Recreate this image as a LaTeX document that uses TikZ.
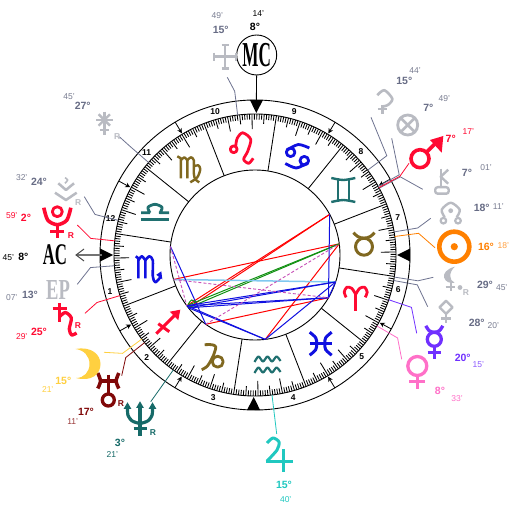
\documentclass[tikz,border=0pt]{standalone}
\usepackage{fontspec}
\setmainfont{Liberation Sans}
\newfontfamily\capfont{Liberation Serif}
\usetikzlibrary{calc,arrows.meta}
\definecolor{cGrey}{HTML}{B9BBC2}
\definecolor{cTxt}{HTML}{676C85}
\definecolor{cTxtM}{HTML}{7A7E92}
\definecolor{cLine}{HTML}{6E7390}
\definecolor{cRed}{HTML}{FF0A32}
\definecolor{cOrange}{HTML}{FF8000}
\definecolor{cPurple}{HTML}{7030FF}
\definecolor{cPink}{HTML}{FF70C8}
\definecolor{cJup}{HTML}{20C8C0}
\definecolor{cNep}{HTML}{166A68}
\definecolor{cUra}{HTML}{800808}
\definecolor{cMoon}{HTML}{FFD040}
\definecolor{cBrown}{HTML}{806820}
\definecolor{cTeal}{HTML}{207070}
\definecolor{cBlue}{HTML}{1010E0}
\definecolor{cAspG}{HTML}{109010}
\definecolor{cAspL}{HTML}{80C8F0}
\definecolor{cAspD}{HTML}{C850B8}
\tikzset{
  x=1pt,y=-1pt,
  deg/.style={font=\fontsize{10.5}{12}\selectfont\bfseries,inner sep=0pt},
  mn/.style={font=\fontsize{8.5}{10}\selectfont,inner sep=0pt},
  retro/.style={font=\fontsize{8.5}{10}\selectfont\bfseries,inner sep=0pt},
  hnum/.style={font=\fontsize{8.5}{10}\selectfont\bfseries,inner sep=0pt},
  gl/.style={line width=#1,line join=round},
  gl/.default=3pt,
  ptr/.style={line width=.8pt,#1},
  aspRed/.style={draw=red,line width=1pt},
  aspBlue/.style={draw=cBlue,line width=1pt},
  aspGreen/.style={draw=cAspG,line width=1pt},
  aspDash/.style={draw=cAspD,line width=.9pt,dash pattern=on 3pt off 2pt},
  aspLight/.style={draw=cAspL,line width=1.5pt},
  hcusp/.style={line width=.8pt,-{Stealth[length=5pt,width=5pt]}},
}
\newcommand{\lab}[6]{\node[#4,text=#5] (#1) at (#2,#3) {#6};}
\newcommand{\pointer}[4]{\draw[ptr=#2] ($(C)+(-#1:141)$) -- ($(C)+(-#1:165)$) -- (#3,#4);}
\newcommand{\angletri}[1]{\fill[black] ($(C)+(-#1:142)$) -- ($(C)+(-#1:155)+(-#1+90:6.5)$) -- ($(C)+(-#1:155)+(-#1-90:6.5)$) -- cycle;}
\begin{document}
\begin{tikzpicture}
\useasboundingbox (0,0) rectangle (510,510);
\fill[white] (0,0) rectangle (510,510);
\coordinate (C) at (255,255);
% rings
\draw[line width=.9pt] (C) circle[radius=155pt];
\draw[line width=.9pt] (C) circle[radius=141pt];
\draw[line width=.9pt] (C) circle[radius=85pt];
% ticks
\foreach \i in {0,...,359}{
  \pgfmathsetmacro\a{\i-38.75}
  \pgfmathsetmacro\ri{ifthenelse(mod(\i,30)==0,85,ifthenelse(mod(\i,10)==0,126,ifthenelse(mod(\i,5)==0,131.5,135.5)))}
  \draw[line width=.85pt] ($(C)+(-\a:141)$) -- ($(C)+(-\a:\ri)$);
}
% angle triangles
\angletri{180}\angletri{89.48}\angletri{0}\angletri{269.48}
% house cusp arrows
\foreach \a in {151.5,121,209.3,238.9,331.5,301,29.3,58.9}{
  \draw[hcusp] ($(C)+(-\a:155)$) -- ($(C)+(-\a:142)$);
}
% house numbers
\lab{h10}{215}{111.5}{hnum}{black}{10}
\lab{h11}{146.7}{152.7}{hnum}{black}{11}
\lab{h12}{110.7}{219}{hnum}{black}{12}
\lab{h1}{110}{291.7}{hnum}{black}{1}
\lab{h2}{146.7}{357.7}{hnum}{black}{2}
\lab{h3}{213.3}{397.7}{hnum}{black}{3}
\lab{h4}{293.3}{397.7}{hnum}{black}{4}
\lab{h5}{361.7}{356.7}{hnum}{black}{5}
\lab{h6}{398.3}{290}{hnum}{black}{6}
\lab{h7}{397.7}{217.3}{hnum}{black}{7}
\lab{h8}{361}{151.7}{hnum}{black}{8}
\lab{h9}{294.3}{111.7}{hnum}{black}{9}
% aspect anchors
\foreach \n/\t in {Sun/7.55,Mars/28.53,Merc/-18.5,Ven/-30.2,Jup/276.92,Nep/234.6,Moon/216.6,Ura/218.43,Sat/196.73,Plu/174.23}{
  \coordinate (a\n) at ($(C)+(-\t:85)$);
}
\draw[aspRed] (aMoon) -- (aMars);
\draw[aspRed] (aUra) -- (aMars);
\draw[aspRed] (aSat) -- (aSun);
\draw[aspRed] (aNep) -- (aVen);
\draw[aspRed] (aJup) -- (aSun);
\draw[aspGreen] (aMoon) -- (aSun);
\draw[aspGreen] (aUra) -- (aSun);
\draw[aspLight] (aSat) -- (aMerc);
\draw[aspBlue] (aMoon) -- (aMerc);
\draw[aspBlue] (aUra) -- (aMerc);
\draw[aspBlue] (aMoon) -- (aVen);
\draw[aspBlue] (aUra) -- (aVen);
\draw[aspBlue] (aMoon) -- (aJup);
\draw[aspBlue] (aUra) -- (aJup);
\draw[aspBlue] (aPlu) -- (aNep);
\draw[aspBlue] (aJup) -- (aMerc);
\draw[aspBlue] (aMars) -- (aVen);
\draw[aspBlue] (aMerc) -- (aVen);
\draw[aspDash] (aPlu) -- (aMoon);
\draw[aspDash] (aSat) -- (aVen);
\draw[aspDash] (aNep) -- (aSun);
\draw[aspGreen] plot[smooth] coordinates {(188.3,304) (191.7,300) (196,302.3)};

% ---------- zodiac signs ----------
% Virgo
\begin{scope}[shift={(189.3,168.3)}]
\draw[gl=2.4pt,cBrown] (-12,-12) -- (-8.5,-10) -- (-8.5,10);
\draw[gl=2.4pt,cBrown] plot[smooth] coordinates {(-8.5,-8) (-5,-11) (-2,-8)} -- (-2,10);
\draw[gl=2.4pt,cBrown] plot[smooth] coordinates {(-2,-8) (1.5,-11) (4.5,-8) (4.5,5) (6,11) (10,14)};
\draw[gl=2.4pt,cBrown] plot[smooth] coordinates {(4.5,-2) (9,-3) (11,1) (8,9) (1,14)};
\end{scope}
% Libra
\begin{scope}[shift={(155,212.3)}]
\draw[gl=2.8pt,cTeal] (-14,7.5) -- (14,7.5);
\draw[gl=2.8pt,cTeal] (-14,.5) -- (-5,.5) plot[smooth] coordinates {(-5,.5) (-7,-5) (0,-8) (7,-5) (5,.5)} -- (14,.5);
\end{scope}
% Leo
\begin{scope}[shift={(241.7,148.3)}]
\draw[gl=2.8pt,cRed] (-8,1) circle[radius=3.4pt];
\draw[gl=2.8pt,cRed] plot[smooth] coordinates {(-6,-2) (-4.5,-10) (1,-15.5) (9,-9) (6,3) (2,11) (7,15) (11.5,10)};
\end{scope}
% Cancer
\begin{scope}[shift={(297.3,156)}]
\draw[gl=2.8pt,cBlue] (-6.7,-3.7) circle[radius=4.3pt];
\draw[gl=2.8pt,cBlue] (7,4.7) circle[radius=4.3pt];
\draw[gl=2.8pt,cBlue] plot[smooth] coordinates {(-10,-6) (1,-11.5) (12,-8)};
\draw[gl=2.8pt,cBlue] plot[smooth] coordinates {(-12,7.5) (-1,12) (10,7)};
\end{scope}
% Gemini
\begin{scope}[shift={(343.3,190)}]
\draw[gl=2.4pt,cTeal] plot[smooth] coordinates {(-12,-12) (0,-10) (12,-12)};
\draw[gl=2.4pt,cTeal] plot[smooth] coordinates {(-12,12) (0,10) (12,12)};
\draw[gl=2.6pt,cTeal] (-5.5,-10) -- (-5.5,10);
\draw[gl=2.6pt,cTeal] (5.5,-10) -- (5.5,10);
\end{scope}
% Taurus
\begin{scope}[shift={(364,246.7)}]
\draw[gl=3pt,cBrown] (0,0) circle[radius=8.5pt];
\draw[gl=3pt,cBrown] plot[smooth] coordinates {(-10.5,-14) (-6,-10) (0,-8.5) (6,-10) (10.5,-14)};
\end{scope}
% Aries
\begin{scope}[shift={(355.7,298.3)}]
\draw[gl=2.8pt,cRed] (0,-4) -- (0,13);
\draw[gl=2.8pt,cRed] plot[smooth] coordinates {(0,-4) (-4,-10) (-9,-11) (-11.5,-6) (-9.5,-1)};
\draw[gl=2.8pt,cRed] plot[smooth] coordinates {(0,-4) (4,-10) (9,-11) (11.5,-6) (9.5,-1)};
\end{scope}
% Pisces
\begin{scope}[shift={(320.7,343.7)}]
\draw[gl=3pt,cBlue] plot[smooth] coordinates {(-11,-11.5) (-5,-6) (-4,0) (-5,6) (-11,11.5)};
\draw[gl=3pt,cBlue] plot[smooth] coordinates {(11,-11.5) (5,-6) (4,0) (5,6) (11,11.5)};
\draw[gl=3pt,cBlue] (-11,0) -- (11,0);
\end{scope}
% Aquarius
\begin{scope}[shift={(267.5,364.5)}]
\foreach \dy in {-5.5,5.5}{
\draw[gl=2.2pt,cTeal,yshift=-\dy pt] plot[smooth] coordinates {(-13,3) (-9,-2.5) (-4.5,2.5) (0,-2.5) (4.5,2.5) (9,-2.5) (13,2)};
}
\end{scope}
% Capricorn
\begin{scope}[shift={(211.7,356.7)}]
\draw[gl=2.8pt,cBrown] plot[smooth] coordinates {(-7,-12) (0,-12) (4,-10) (2,-2) (-4,9) (-10,13)};
\draw[gl=2.8pt,cBrown] (6,5) circle[radius=5.5pt];
\end{scope}
% Sagittarius
\begin{scope}[shift={(168.3,321.7)}]
\draw[gl=3pt,cRed] (-12,12) -- (8,-8);
\draw[gl=3pt,cRed] (-10,2) -- (1,10);
\fill[cRed] (12,-12) -- (1.5,-10) -- (10,-1.5) -- cycle;
\end{scope}
% Scorpio
\begin{scope}[shift={(148.3,268.3)}]
\draw[gl=2.6pt,cBlue] (-12.5,-12) -- (-10,-10) -- (-10,10);
\draw[gl=2.6pt,cBlue] plot[smooth] coordinates {(-10,-8) (-6.5,-12) (-3,-8)} -- (-3,10);
\draw[gl=2.6pt,cBlue] plot[smooth] coordinates {(-3,-8) (1,-12) (4.5,-8) (4.5,8) (7,14) (12,9)};
\fill[cBlue] (13,3) -- (8,6.5) -- (14,11) -- cycle;
\end{scope}

% ---------- pointers ----------
\pointer{7.55}{cOrange}{435}{247.7}
\pointer{9.43}{cLine}{430.7}{218.3}
\pointer{28.27}{cLine}{422.7}{189.3}
\pointer{29.07}{cLine}{391.7}{138.3}
\pointer{36.98}{cLine}{371}{117.3}
\pointer{28.53}{cRed}{409}{163.3}
\pointer{-9}{cLine}{433.3}{277.3}
\pointer{-10.42}{cLine}{427.7}{306.7}
\pointer{-18.5}{cPurple}{416.7}{333.3}
\pointer{-30.2}{cPink}{401.7}{359.3}
\pointer{276.92}{cJup}{276.7}{434}
\pointer{234.6}{cNep}{150.7}{401.7}
\pointer{218.43}{cUra}{121.7}{375.7}
\pointer{216.6}{cMoon}{104}{352.3}
\pointer{196.73}{cRed}{85}{313.3}
\pointer{184.37}{cLine}{77.3}{284.3}
\pointer{174.23}{cRed}{77.3}{225}
\pointer{165.78}{cLine}{84.3}{196.7}
\pointer{139}{cLine}{119.3}{136.7}
\pointer{97.07}{cLine}{227.3}{77.3}

% ---------- MC ----------
\node[draw,circle,line width=.9pt,minimum size=40pt,inner sep=0pt] (mcc) at (256.7,55) {};
\node[inner sep=0pt,xscale=.49,font=\fontsize{35}{35}\selectfont\capfont\bfseries] (mct) at (256.7,55) {MC};
\coordinate (mcEnd) at ($(C)+(-89.48:150)$);
\draw[line width=.9pt] (mcc) -- (mcEnd);
\lab{mcD}{255}{27.3}{deg}{black}{8°}
\lab{mcM}{258.3}{13.5}{mn}{black}{14'}
% ---------- AC ----------
\node[inner sep=0pt,xscale=.56,font=\fontsize{30}{30}\selectfont\capfont\bfseries] (act) at (55,255) {AC};
\coordinate (acEnd) at (102,255);
\draw[line width=2.4pt,draw=black!55] (acEnd) -- (77,255);
\draw[line width=1pt,draw=black!70] (84,249) -- (76,255) -- (84,261);
\lab{acD}{23.3}{257.3}{deg}{black}{8°}
\lab{acM}{8.3}{257.7}{mn}{black}{45'}
% ---------- EP ----------
\node[inner sep=0pt,xscale=.64,font=\fontsize{29}{29}\selectfont\capfont\bfseries,text=cGrey] (ept) at (58,290) {EP};
\lab{epD}{30}{295}{deg}{cTxt}{13°}
\lab{epM}{11.7}{297.3}{mn}{cTxtM}{07'}

% ---------- planets ----------
% Sun
\begin{scope}[shift={(454.3,246.7)}]
\draw[gl=4.6pt,cOrange] (0,0) circle[radius=15pt];
\fill[cOrange] (0,0) circle[radius=3.6pt];
\end{scope}
\lab{sunD}{486}{246.7}{deg}{cOrange}{16°}
\lab{sunM}{503.3}{246}{mn}{cOrange!75}{18'}
% Node
\begin{scope}[shift={(450.7,211.7)}]
\draw[gl=2.4pt,cGrey] plot[smooth] coordinates {(-6,5.5) (-9,-2) (0,-9) (9,-2) (6,5.5)};
\draw[gl=2.2pt,cGrey] (-7.3,9) circle[radius=2.8pt];
\draw[gl=2.2pt,cGrey] (7.3,9) circle[radius=2.8pt];
\fill[cGrey] (0,-1) circle[radius=2.4pt];
\end{scope}
\lab{nodeD}{481.7}{208.3}{deg}{cTxt}{18°}
\lab{nodeM}{498.3}{206.7}{mn}{cTxtM}{11'}
% Chiron
\begin{scope}[shift={(441.7,181.7)}]
\draw[gl=2.4pt,cGrey] (-1,-13) -- (-1,4);
\draw[gl=2.4pt,cGrey] (6.5,-12) -- (-1,-5) -- (6.5,2);
\draw[gl=2.4pt,cGrey,rounded corners=2.5pt] (-6.5,5.5) rectangle (7,12);
\end{scope}
\lab{chiD}{467}{172.7}{deg}{cTxt}{7°}
\lab{chiM}{486}{167.7}{mn}{cTxtM}{01'}
% Mars
\begin{scope}[shift={(420,158.7)}]
\draw[gl=3.6pt,cRed] (0,0) circle[radius=9pt];
\draw[gl=3.6pt,cRed] (7,-7) -- (18,-18);
\fill[cRed] (23.3,-22.7) -- (10,-18.7) -- (21.7,-6) -- cycle;
\end{scope}
\lab{marD}{450.7}{139.3}{deg}{cRed}{7°}
\lab{marM}{468.3}{131.7}{mn}{cRed}{17'}
% Fortune
\begin{scope}[shift={(407.7,125)}]
\draw[gl=2.8pt,cGrey] (0,0) circle[radius=10pt];
\draw[gl=2.6pt,cGrey] (-7,-7) -- (7,7);
\draw[gl=2.6pt,cGrey] (-7,7) -- (7,-7);
\end{scope}
\lab{forD}{428.3}{107.7}{deg}{cTxt}{7°}
\lab{forM}{444.3}{98.3}{mn}{cTxtM}{49'}
% Ceres
\begin{scope}[shift={(383.3,101.7)}]
\draw[gl=2.6pt,cGrey] plot[smooth] coordinates {(-6,-6.5) (1,-11.5) (9,-3) (5,3) (-1,5)};
\draw[gl=2.6pt,cGrey] (-1,3) -- (-1,12);
\draw[gl=2.6pt,cGrey] (-5.5,7.5) -- (3.5,7.5);
\end{scope}
\lab{cerD}{404.3}{81}{deg}{cTxt}{15°}
\lab{cerM}{415}{70.7}{mn}{cTxtM}{44'}
% Lilith
\begin{scope}[shift={(450.7,276.7)}]
\fill[cGrey] (4.3,-10) .. controls (-4,-8) and (-8,-3) .. (-6.5,1) .. controls (-5.5,5) and (-1,7) .. (4,6) .. controls (-2,4) and (-2,-5) .. (4.3,-10);
\draw[gl=2.4pt,cGrey] (0,5) -- (0,14.5);
\draw[gl=2.4pt,cGrey] (-5,10.5) -- (4.5,10.5);
\fill[cGrey] (9.3,10.8) circle[radius=2.4pt];
\end{scope}
\lab{lilR}{466}{292.3}{retro}{cGrey}{R}
\lab{lilD}{485}{285}{deg}{cTxt}{29°}
\lab{lilM}{501.7}{287.3}{mn}{cTxtM}{45'}
% Diamond
\begin{scope}[shift={(446,307.3)}]
\draw[gl=2.4pt,cGrey] (0,-6.5) -- (6.5,0) -- (0,6.5) -- (-6.5,0) -- cycle;
\draw[gl=2.4pt,cGrey] (0,6.5) -- (0,16);
\draw[gl=2.4pt,cGrey] (-5,11) -- (5,11);
\end{scope}
\lab{diaD}{476.7}{323.3}{deg}{cTxt}{28°}
\lab{diaM}{493.3}{326}{mn}{cTxtM}{20'}
% Mercury
\begin{scope}[shift={(434.3,339.3)}]
\draw[gl=3.3pt,cPurple] (0,0) circle[radius=7pt];
\draw[gl=3.3pt,cPurple] plot[smooth] coordinates {(-8.5,-13.5) (-5,-8.5) (0,-7) (5,-8.5) (8.5,-13.5)};
\draw[gl=3.3pt,cPurple] (0,7) -- (0,19.5);
\draw[gl=3.3pt,cPurple] (-6.7,13.3) -- (6.7,13.3);
\end{scope}
\lab{merD}{462.7}{358.3}{deg}{cPurple}{20°}
\lab{merM}{478.3}{364.3}{mn}{cPurple!80}{15'}
% Venus
\begin{scope}[shift={(417.3,366)}]
\draw[gl=3.3pt,cPink] (0,0) circle[radius=9.5pt];
\draw[gl=3.3pt,cPink] (0,9.5) -- (0,22.5);
\draw[gl=3.3pt,cPink] (-8,15.5) -- (8,15.5);
\end{scope}
\lab{venD}{440}{391}{deg}{cPink}{8°}
\lab{venM}{457}{398.3}{mn}{cPink}{33'}
% Jupiter
\begin{scope}[shift={(279,454)}]
\draw[gl=3pt,cJup] plot[smooth] coordinates {(-12,-11) (-6,-16) (0,-12) (-2,-4) (-12,7)};
\draw[gl=3pt,cJup] (-13.5,7) -- (14,7);
\draw[gl=3pt,cJup] (4,-5) -- (4,17.5);
\end{scope}
\lab{jupD}{284}{485}{deg}{cJup}{15°}
\lab{jupM}{285.7}{499.3}{mn}{cJup}{40'}
% Neptune
\begin{scope}[shift={(140,418.3)}]
\draw[gl=3.2pt,cNep] (0,-12) -- (0,17.3);
\draw[gl=3.2pt,cNep] (-6.5,10.5) -- (6.5,10.5);
\draw[gl=3.2pt,cNep] plot[smooth] coordinates {(-12.5,-11) (-12,-3) (-8,2.5) (0,5) (8,2.5) (12,-3) (12.5,-11)};
\fill[cNep] (0,-17) -- (3.8,-10.5) -- (-3.8,-10.5) -- cycle;
\fill[cNep] (-12.5,-16) -- (-8.7,-9.5) -- (-16.3,-9.5) -- cycle;
\fill[cNep] (12.5,-16) -- (16.3,-9.5) -- (8.7,-9.5) -- cycle;
\end{scope}
\lab{nepR}{153}{432.5}{retro}{cNep}{R}
\lab{nepD}{120}{443.3}{deg}{cNep}{3°}
\lab{nepM}{112.3}{455}{mn}{cNep}{21'}
% Uranus
\begin{scope}[shift={(108.3,381)}]
\draw[gl=3.5pt,cUra] plot[smooth] coordinates {(-10.5,-8) (-7.8,0) (-10.5,7.5)};
\draw[gl=3.5pt,cUra] plot[smooth] coordinates {(10.5,-8) (7.8,0) (10.5,7.5)};
\draw[gl=3.5pt,cUra] (-8,0) -- (8,0);
\draw[gl=3.5pt,cUra] (0,-6.5) -- (0,13);
\draw[gl=3.3pt,cUra] (0,19) circle[radius=6pt];
\end{scope}
\lab{uraR}{121}{403.3}{retro}{cUra}{R}
\lab{uraD}{86}{411.7}{deg}{cUra}{17°}
\lab{uraM}{72.7}{421.7}{mn}{cUra!80}{11'}
% Moon
\fill[cMoon] (75.5,349) .. controls (92,346) and (100.5,355) .. (100.5,364) .. controls (100.5,374) and (92,382) .. (76,378) .. controls (84,378) and (89.5,372) .. (89.5,364) .. controls (89.5,356) and (84,350) .. (75.5,349);
\lab{mooD}{63.3}{381}{deg}{cMoon}{15°}
\lab{mooM}{47.7}{389.3}{mn}{cMoon}{21'}
% Saturn
\begin{scope}[shift={(63.3,320)}]
\draw[gl=3.3pt,cRed] (-4,-16.7) -- (-4,2);
\draw[gl=3.3pt,cRed] (-10.7,-11.7) -- (3.3,-11.7);
\draw[gl=3.3pt,cRed] plot[smooth] coordinates {(-4,-3) (2,-7.5) (8,-2) (6,9) (8.3,15) (13.3,13)};
\end{scope}
\lab{satR}{78}{326}{retro}{cRed}{R}
\lab{satD}{39}{331.7}{deg}{cRed}{25°}
\lab{satM}{21.7}{336.7}{mn}{cRed}{29'}
% Pluto
\begin{scope}[shift={(57.3,211.7)}]
\draw[gl=2.8pt,cRed] (0,0) circle[radius=5pt];
\draw[gl=3.6pt,cRed] plot[smooth] coordinates {(-13.5,-4) (-9.5,8.5) (0,13) (9.5,8.5) (13.5,-4)};
\draw[gl=3.3pt,cRed] (0,13) -- (0,26);
\draw[gl=3.3pt,cRed] (-7,20) -- (7,20);
\end{scope}
\lab{pluR}{71}{235.7}{retro}{cRed}{R}
\lab{pluD}{26}{218.3}{deg}{cRed}{2°}
\lab{pluM}{11.7}{216}{mn}{cRed}{59'}
% Chevrons
\begin{scope}[shift={(66,190)}]
\draw[gl=2.5pt,cGrey] (-7.7,-6.7) -- (0,0) -- (8,-6.7);
\draw[gl=2.5pt,cGrey] (-11,2.7) -- (0,10) -- (10.7,2.7);
\draw[gl=1.6pt,cGrey] plot[smooth] coordinates {(-1,-12.3) (1.7,-10) (-1,-6.7)};
\end{scope}
\lab{cheR}{78.3}{202.3}{retro}{cGrey}{R}
\lab{cheD}{39}{181.7}{deg}{cTxt}{24°}
\lab{cheM}{21.7}{177.7}{mn}{cTxtM}{32'}
% Star
\begin{scope}[shift={(104.3,120)}]
\draw[gl=2.4pt,cGrey] (0,-8.3) -- (0,15);
\draw[gl=2.4pt,cGrey] (-8.3,0) -- (8.3,0);
\draw[gl=2.4pt,cGrey] (-5.7,-5.7) -- (5.7,5.7);
\draw[gl=2.4pt,cGrey] (-5.7,5.7) -- (5.7,-5.7);
\draw[gl=2.4pt,cGrey] (-4.5,10) -- (4.5,10);
\end{scope}
\lab{staR}{117.3}{136.7}{retro}{cGrey}{R}
\lab{staD}{82.7}{106}{deg}{cTxt}{27°}
\lab{staM}{69}{96.7}{mn}{cTxtM}{45'}
% Cross
\begin{scope}[shift={(225,56.7)}]
\draw[gl=2.4pt,cGrey] (-11,0) -- (11,0);
\draw[gl=2.4pt,cGrey] (0,-11.7) -- (0,11.7);
\draw[gl=2.4pt,cGrey] (-11,-4) -- (-11,4);
\draw[gl=2.4pt,cGrey] (11,-4) -- (11,4);
\draw[gl=2.4pt,cGrey] (-3.5,-11.7) -- (3.5,-11.7);
\draw[gl=2.4pt,cGrey] (-3.5,11.7) -- (3.5,11.7);
\end{scope}
\lab{croD}{220.7}{30}{deg}{cTxt}{15°}
\lab{croM}{217.3}{15.7}{mn}{cTxtM}{49'}
\end{tikzpicture}
\end{document}
